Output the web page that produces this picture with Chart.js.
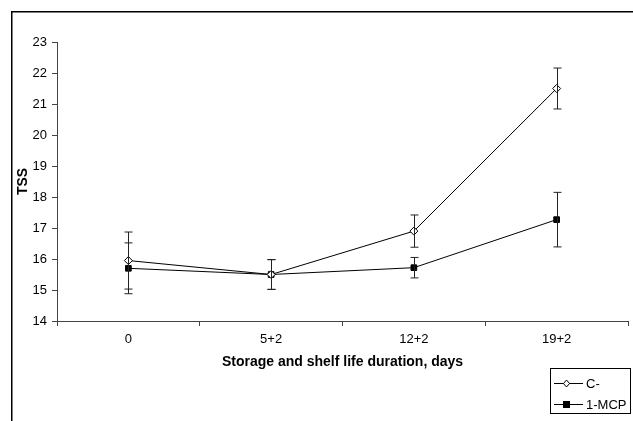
<!DOCTYPE html>
<html>
<head>
<meta charset="utf-8">
<script src="https://cdn.jsdelivr.net/npm/chart.js@4"></script>
<style>
  html, body { margin: 0; padding: 0; background: #fff; }
  #wrap { width: 633px; height: 421px; }
</style>
</head>
<body>
<div id="wrap"><canvas id="myChart" width="633" height="421"></canvas></div>
<script>
var labels = ['0', '5+2', '12+2', '19+2']
var cMinus = [15.95, 15.5, 16.9, 21.5]
var cMinusErr = [0.92, 0.48, 0.52, 0.66]
var mcp = [15.7, 15.5, 15.72, 17.27]
var mcpErr = [0.82, 0.48, 0.33, 0.88]
var yTicks = [14, 15, 16, 17, 18, 19, 20, 21, 22, 23]

var FONT = 'Liberation Sans, Arial, sans-serif'

// outer frame + error bars + boxed legend
var extras = {
  id: 'extras',
  beforeDraw: function(chart) {
    var ctx = chart.ctx
    ctx.save()
    ctx.fillStyle = '#fff'
    ctx.fillRect(0, 0, chart.width, chart.height)
    ctx.strokeStyle = '#000'
    ctx.lineWidth = 1.5
    ctx.strokeRect(11.75, 11.75, 700, 500)
    ctx.restore()
  },
  afterDatasetsDraw: function(chart) {
    var ctx = chart.ctx
    var x = chart.scales.x, y = chart.scales.y
    var errs = [cMinusErr, mcpErr]
    ctx.save()
    ctx.strokeStyle = '#222'
    ctx.lineWidth = 1
    chart.data.datasets.forEach(function(ds, d) {
      ds.data.forEach(function(v, i) {
        var px = Math.round(x.getPixelForValue(i)) + 0.5
        var top = y.getPixelForValue(v + errs[d][i])
        var bot = y.getPixelForValue(v - errs[d][i])
        ctx.beginPath()
        ctx.moveTo(px, top); ctx.lineTo(px, bot)
        ctx.moveTo(px - 4, top); ctx.lineTo(px + 4, top)
        ctx.moveTo(px - 4, bot); ctx.lineTo(px + 4, bot)
        ctx.stroke()
      })
    })
    ctx.restore()
  },
  afterDraw: function(chart) {
    var ctx = chart.ctx
    ctx.save()
    ctx.strokeStyle = '#000'
    ctx.lineWidth = 1
    ctx.strokeRect(550.5, 368.5, 80, 45)
    ctx.font = '13px ' + FONT
    ctx.textBaseline = 'middle'
    ctx.fillStyle = '#000'
    chart.data.datasets.forEach(function(ds, i) {
      var ry = i === 0 ? 383 : 404
      ctx.beginPath()
      ctx.moveTo(554, ry + 0.5); ctx.lineTo(583, ry + 0.5)
      ctx.stroke()
      ctx.fillStyle = ds.pointBackgroundColor
      ctx.beginPath()
      if (ds.pointStyle === 'rectRot') {
        ctx.moveTo(566.5, ry - 3); ctx.lineTo(569.5, ry + 0.5)
        ctx.lineTo(566.5, ry + 4); ctx.lineTo(563.5, ry + 0.5); ctx.closePath()
        ctx.fill(); ctx.stroke()
      } else {
        ctx.rect(563, ry - 3, 7, 7)
        ctx.fill()
      }
      ctx.fillStyle = '#000'
      ctx.fillText(ds.label, 586, ry + 1)
    })
    ctx.restore()
  }
}

var ctx = document.getElementById('myChart')
var myChart = new Chart(ctx, {
  type: 'line',
  data: {
    labels: labels,
    datasets: [
      {
        label: 'C-',
        data: cMinus,
        borderColor: '#000',
        borderWidth: 1,
        pointStyle: 'rectRot',
        pointRadius: 4,
        pointBackgroundColor: '#fff',
        pointBorderColor: '#000',
        pointBorderWidth: 1,
        fill: false,
        tension: 0
      },
      {
        label: '1-MCP',
        data: mcp,
        borderColor: '#000',
        borderWidth: 1,
        pointStyle: 'rect',
        pointRadius: 4,
        pointBackgroundColor: '#000',
        pointBorderColor: '#000',
        pointBorderWidth: 1,
        fill: false,
        tension: 0
      }
    ]
  },
  options: {
    responsive: false,
    animation: false,
    devicePixelRatio: 1,
    layout: { padding: { left: 12, right: 3, top: 42, bottom: 50 } },
    plugins: {
      legend: { display: false },
      tooltip: { enabled: false }
    },
    scales: {
      x: {
        type: 'category',
        offset: true,
        grid: { display: true, offset: true, drawOnChartArea: false, tickLength: 5, color: '#444' },
        border: { display: true, color: '#444', width: 1 },
        ticks: { color: '#000', font: { family: FONT, size: 13 }, padding: 6, maxRotation: 0 },
        title: { display: true, text: 'Storage and shelf life duration, days', color: '#000',
                 font: { family: FONT, size: 14, weight: 'bold' }, padding: { top: 0, bottom: 0 } },
        afterFit: function(s) { s.height = 50 }
      },
      y: {
        min: 14,
        max: 23,
        afterBuildTicks: function(s) { s.ticks = yTicks.map(function(v) { return { value: v } }) },
        grid: { display: true, drawOnChartArea: false, tickLength: 5, color: '#444' },
        border: { display: true, color: '#444', width: 1 },
        ticks: { color: '#000', font: { family: FONT, size: 13 }, padding: 5 },
        title: { display: true, text: 'TSS', color: '#000',
                 font: { family: FONT, size: 14, weight: 'bold' }, padding: { top: 3, bottom: 0 } },
        afterFit: function(s) { s.width = 45 }
      }
    }
  },
  plugins: [extras]
})
</script>
</body>
</html>
